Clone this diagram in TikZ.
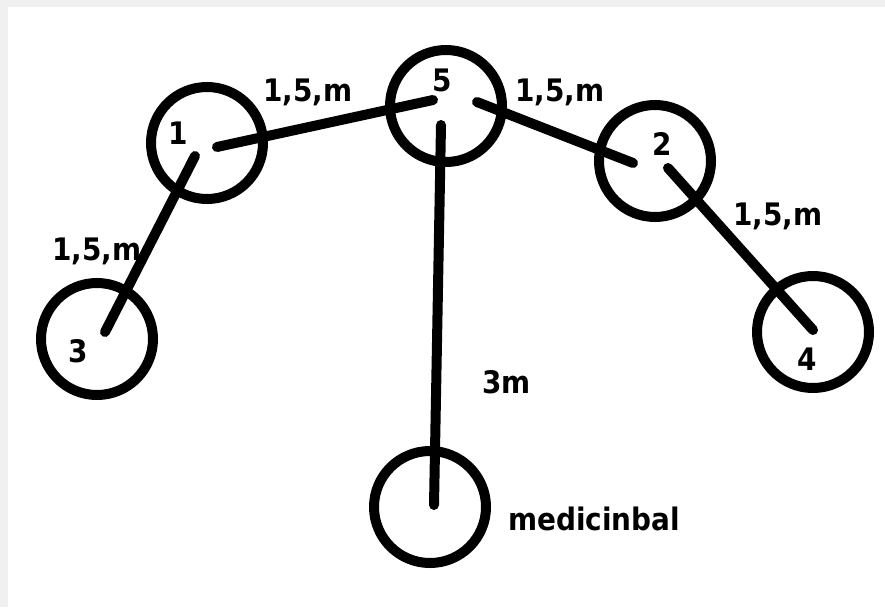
\documentclass[tikz,border=0pt]{standalone}
\usepackage{fontspec}
\setmainfont{DejaVu Sans Condensed}[BoldFont={DejaVu Sans Condensed Bold}]
\definecolor{frame}{HTML}{F0F0F0}
\tikzset{
  ring/.style={circle, draw=black, line width=10pt, minimum size=112pt, inner sep=0pt},
  link/.style={draw=black, line width=10pt, line cap=round},
  lbl/.style={inner sep=0pt, font=\fontsize{31pt}{31pt}\selectfont\bfseries},
}
\begin{document}
\begin{tikzpicture}[x=1pt,y=-1pt]
  % canvas with thin grey margin at top and left
  \fill[frame] (0,0) rectangle (885,607);
  \fill[white] (8,7) rectangle (885,607);
  \useasboundingbox (0,0) rectangle (885,607);

  % stations
  \node[ring] (c1) at (207,143) {};
  \node[ring] (c5) at (446,106) {};
  \node[ring] (c2) at (655,161) {};
  \node[ring] (c3) at (97,339) {};
  \node[ring] (c4) at (813,332) {};
  \node[ring] (cm) at (430,507) {};

  % distances between stations
  \draw[link] ([shift={(10,4)}]c1.center) -- ([shift={(-13,-6)}]c5.center);
  \draw[link] ([shift={(31,-4)}]c5.center) -- ([shift={(-22,2)}]c2.center);
  \draw[link] ([shift={(13,7)}]c2.center) -- ([shift={(0,-2)}]c4.center);
  \draw[link] ([shift={(-12,13)}]c1.center) -- ([shift={(8,-7)}]c3.center);
  \draw[link] ([shift={(-5,19)}]c5.center) -- ([shift={(4,-2)}]cm.center);

  % station numbers
  \node[lbl, anchor=base] (n1) at (178,144) {1};
  \node[lbl, anchor=base] (n5) at (442,92) {5};
  \node[lbl, anchor=base] (n2) at (662,155) {2};
  \node[lbl, anchor=base] (n3) at (78,362) {3};
  \node[lbl, anchor=base] (n4) at (807,370) {4};

  % distance labels
  \node[lbl, anchor=base west] (d15) at (263,102) {1,5,m};
  \node[lbl, anchor=base west] (d52) at (515,102) {1,5,m};
  \node[lbl, anchor=base west] (d13) at (52,260) {1,5,m};
  \node[lbl, anchor=base west] (d24) at (733,225) {1,5,m};
  \node[lbl, anchor=base west] (d5m) at (482,393) {3m};
  \node[lbl, anchor=base west] (lm) at (508,530) {medicinbal};
\end{tikzpicture}
\end{document}
